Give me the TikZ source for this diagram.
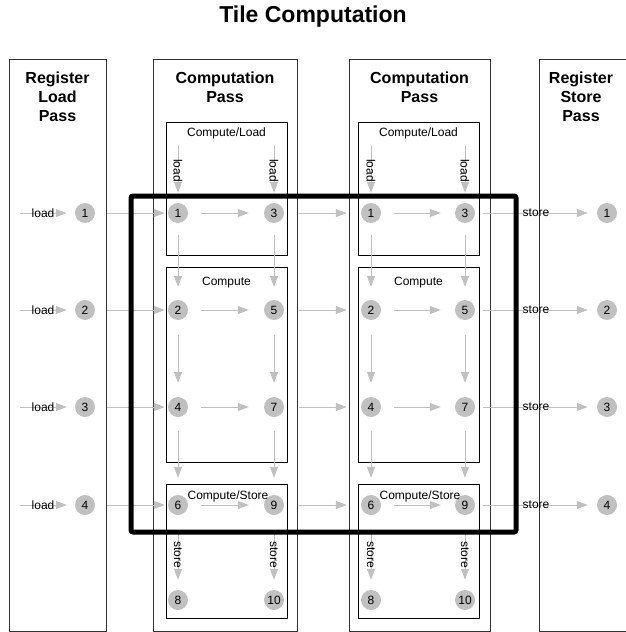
\documentclass[tikz,border=0pt]{standalone}
\usepackage{fontspec}
\setmainfont{Liberation Sans}
\usetikzlibrary{arrows.meta}
\definecolor{lgray}{HTML}{C0C0C0}
\definecolor{bordergray}{HTML}{333333}
\begin{document}
\begin{tikzpicture}[x=1pt,y=-1pt,
  col/.style={draw=bordergray, line width=0.8pt},
  inbox/.style={draw=black, line width=0.8pt},
  reg/.style={circle, fill=lgray, minimum size=20pt, inner sep=0pt, font=\fontsize{12}{14}\selectfont},
  arr/.style={draw=lgray, line width=1pt, -{Triangle[length=11pt,width=8pt]}},
  lbl/.style={font=\fontsize{12}{14}\selectfont, inner sep=0pt},
  hdr/.style={font=\fontsize{16}{19}\selectfont\bfseries, align=center},
  tile/.style={draw=black, line width=5pt, rounded corners=2pt},
]
\useasboundingbox (0,0) rectangle (626,632);
\clip (0,0) rectangle (626,632);

% title
\node[font=\fontsize{23}{26}\selectfont\bfseries] (title) at (313,17) {Tile Computation};

% columns
\draw[col] (9,59) rectangle (106,631);
\draw[col] (153,59) rectangle (297,631);
\draw[col] (349,59) rectangle (490,631);
\draw[col] (539,59) rectangle (660,631);

\node[hdr] (h1) at (57.5,97) {Register\\Load\\Pass};
\node[hdr] (h2) at (225,87.5) {Computation\\Pass};
\node[hdr] (h3) at (419.5,87.5) {Computation\\Pass};
\node[hdr] (h4) at (581,97) {Register\\Store\\Pass};

% inner boxes
\draw[inbox] (166,122) rectangle (287,255);
\draw[inbox] (166,267) rectangle (287,462);
\draw[inbox] (166,484) rectangle (287,618);
\draw[inbox] (358,122) rectangle (479,255);
\draw[inbox] (358,267) rectangle (479,462);
\draw[inbox] (358,484) rectangle (479,618);

% register nodes
\foreach \n/\y in {1/213,2/310,3/407,4/505} {
  \node[reg] (L\n) at (85,\y) {\n};
  \node[reg] (S\n) at (607,\y) {\n};
}
\foreach \n/\x/\y in {1/178/213,3/274/213,2/178/310,5/274/310,4/178/407,7/274/407,6/178/505,9/274/505,8/178/600,10/274/600} {
  \node[reg] (a\n) at (\x,\y) {\n};
}
\foreach \n/\x/\y in {1/371/213,3/465/213,2/371/310,5/465/310,4/371/407,7/465/407,6/371/505,9/465/505,8/371/600,10/465/600} {
  \node[reg] (b\n) at (\x,\y) {\n};
}

% load arrows (left)
\foreach \n/\y in {1/213,2/310,3/407,4/505} {
  \coordinate (ls\n) at (20,\y);
  \draw[arr, shorten >=8pt] (ls\n) -- (L\n) node[lbl, pos=0.42] {load};
}
% horizontal arrows per row
\foreach \l/\r/\k in {1/3/1,2/5/2,4/7/3,6/9/4} {
  \draw[arr, shorten <=12pt, shorten >=3pt] (L\k) -- (a\l);
  \draw[arr, shorten <=13pt, shorten >=15pt] (a\l) -- (a\r);
  \draw[arr, shorten <=15pt, shorten >=14pt] (a\r) -- (b\l);
  \draw[arr, shorten <=13pt, shorten >=14pt] (b\l) -- (b\r);
  \draw[arr, shorten <=8pt, shorten >=9pt] (b\r) -- (S\k) node[lbl, midway] {store};
}
% vertical arrows
\foreach \c/\x in {a/178,a/274,b/371,b/465} {
  \coordinate (\c top\x) at (\x,146);
}
\foreach \c/\x/\t in {a/178/1,a/274/3,b/371/1,b/465/3} {
  \draw[arr, shorten >=10pt] (\c top\x) -- (\c\t) node[lbl, rotate=-90, pos=0.43] {load};
}
\foreach \c in {a,b} {
  \draw[arr, shorten <=12pt, shorten >=13pt] (\c1) -- (\c2);
  \draw[arr, shorten <=12pt, shorten >=13pt] (\c3) -- (\c5);
  \draw[arr, shorten <=15pt, shorten >=14pt] (\c2) -- (\c4);
  \draw[arr, shorten <=15pt, shorten >=14pt] (\c5) -- (\c7);
  \draw[arr, shorten <=14pt, shorten >=17pt] (\c4) -- (\c6);
  \draw[arr, shorten <=14pt, shorten >=17pt] (\c7) -- (\c9);
  \draw[arr, shorten <=17pt, shorten >=10pt] (\c6) -- (\c8) node[lbl, rotate=-90, pos=0.53] {store};
  \draw[arr, shorten <=17pt, shorten >=10pt] (\c9) -- (\c10) node[lbl, rotate=-90, pos=0.53] {store};
}

% box labels
\node[lbl] (t1) at (226.5,133) {Compute/Load};
\node[lbl] (t2) at (226.5,283) {Compute};
\node[lbl] (t3) at (228,496) {Compute/Store};
\node[lbl] (t4) at (418.5,133) {Compute/Load};
\node[lbl] (t5) at (418.5,283) {Compute};
\node[lbl] (t6) at (420,496) {Compute/Store};

% tile outline
\draw[tile] (131,196) rectangle (516,532);
\end{tikzpicture}
\end{document}
